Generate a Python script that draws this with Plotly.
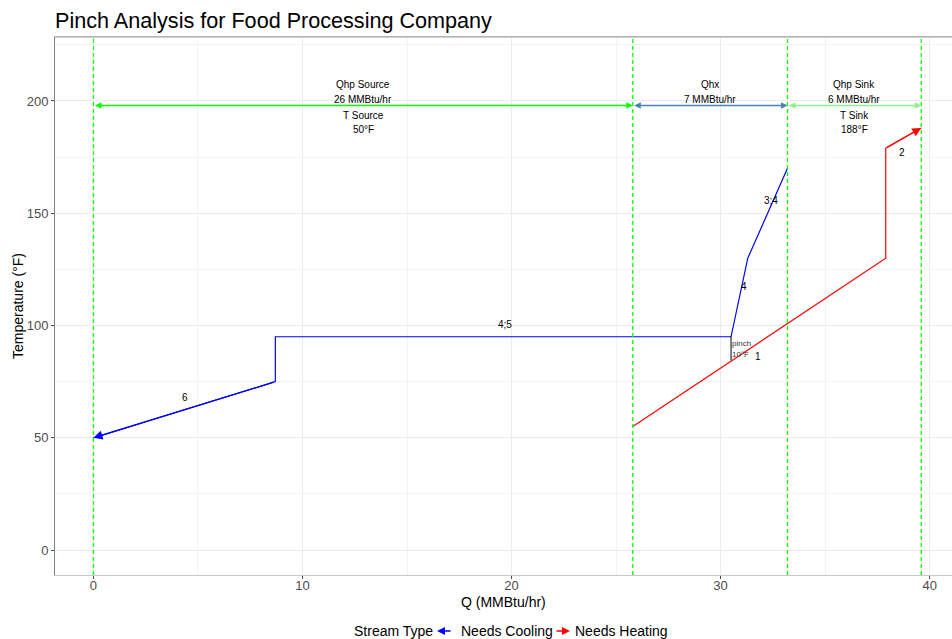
import plotly.graph_objects as go

# Hot composite stream (needs cooling), drawn from high Q down to the arrow at Q=0
hot_q = [33.2, 31.3, 30.5, 8.7, 8.7, 0.0]
hot_t = [170, 130, 95, 95, 75, 50]

# Cold composite stream (needs heating)
cold_q = [25.8, 37.9, 37.9, 39.6]
cold_t = [55, 130, 179, 188]

# Section boundaries (heat pump source / heat exchange / heat pump sink)
bound_q = [0.0, 25.8, 33.2, 39.6]
section_y = 198
section_names = ["Qhp Source", "Qhx", "Qhp Sink"]
section_duty = ["26 MMBtu/hr", "7 MMBtu/hr", "6 MMBtu/hr"]
section_temp_name = ["T Source", "", "T Sink"]
section_temp_val = ["50°F", "", "188°F"]
section_colors = ["#00ff00", "#4682b4", "#90ee90"]

# Segment labels along the streams
seg_labels = ["6", "4;5", "4", "3;4", "1", "2"]
seg_q = [4.4, 19.7, 31.1, 32.4, 31.8, 38.7]
seg_t = [68, 100.5, 117.5, 155.5, 86, 177]

# Pinch marker
pinch_q = 30.5
pinch_hot_t = 95
pinch_cold_t = 84.5
pinch_text = ["pinch", "10°F"]

# Legend entries
legend_title = "Stream Type"
legend_names = ["Needs Cooling", "Needs Heating"]
legend_colors = ["#0000ff", "#ff0000"]

FONT = "Liberation Sans, Arial"
PLOT_L, PLOT_R, PLOT_T, PLOT_B = 55, 952, 37, 575


def px_x(px):
    return (px - PLOT_L) / (PLOT_R - PLOT_L)


def px_y(py):
    return (PLOT_B - py) / (PLOT_B - PLOT_T)


fig = go.Figure()

fig.add_trace(go.Scatter(x=hot_q, y=hot_t, mode="lines", line=dict(color="#0000ff", width=1.2),
                         showlegend=False, hoverinfo="skip"))
fig.add_trace(go.Scatter(x=cold_q, y=cold_t, mode="lines", line=dict(color="#ff0000", width=1.2),
                         showlegend=False, hoverinfo="skip"))

# Pinch gap
fig.add_trace(go.Scatter(x=[pinch_q, pinch_q], y=[pinch_hot_t, pinch_cold_t], mode="lines",
                         line=dict(color="black", width=1), showlegend=False, hoverinfo="skip"))

# Dashed boundary lines
for q in bound_q:
    fig.add_shape(type="line", x0=q, x1=q, y0=0, y1=1, xref="x", yref="paper",
                  line=dict(color="#00ff00", width=1.3, dash="4px,3px"), layer="above")

annotations = []

# Stream end arrowheads
for qs, ts, col in [(hot_q, hot_t, "#0000ff"), (cold_q, cold_t, "#ff0000")]:
    annotations.append(dict(x=qs[-1], y=ts[-1], ax=qs[-2], ay=ts[-2], xref="x", yref="y",
                            axref="x", ayref="y", showarrow=True, arrowhead=2, arrowsize=1.5,
                            arrowwidth=1.2, arrowcolor=col, text=""))

# Section dimension arrows and labels
lab_font = dict(size=10, color="black", family=FONT)
for i in range(3):
    q0, q1 = bound_q[i], bound_q[i + 1]
    annotations.append(dict(x=q1, y=section_y, ax=q0, ay=section_y, xref="x", yref="y",
                            axref="x", ayref="y", showarrow=True, arrowhead=2, startarrowhead=2,
                            arrowside="end+start", arrowsize=1, arrowwidth=1.3,
                            arrowcolor=section_colors[i], text=""))
    mid = (q0 + q1) / 2
    lines = [(section_names[i], 21), (section_duty[i], 6),
             (section_temp_name[i], -10), (section_temp_val[i], -24)]
    for txt, shift in lines:
        if txt:
            annotations.append(dict(x=mid, y=section_y, xref="x", yref="y", showarrow=False,
                                    yanchor="middle", yshift=shift, text=txt, font=lab_font))

for lab, q, t in zip(seg_labels, seg_q, seg_t):
    annotations.append(dict(x=q, y=t, xref="x", yref="y", showarrow=False, text=lab,
                            font=lab_font))

pinch_mid = (pinch_hot_t + pinch_cold_t) / 2
for txt, shift in zip(pinch_text, [5, -6]):
    annotations.append(dict(x=pinch_q, y=pinch_mid, xref="x", yref="y", showarrow=False,
                            xanchor="left", xshift=-1, yshift=shift, text=txt,
                            font=dict(size=8, color="#333333", family=FONT)))

# Axis titles
annotations.append(dict(x=px_x(18), y=0.5, xref="paper", yref="paper", showarrow=False,
                        textangle=-90, xanchor="center", yanchor="middle",
                        text="Temperature (°F)", font=dict(size=14, color="black", family=FONT)))
annotations.append(dict(x=px_x(503.5), y=px_y(602), xref="paper", yref="paper", showarrow=False,
                        xanchor="center", yanchor="middle",
                        text="Q (MMBtu/hr)", font=dict(size=14, color="black", family=FONT)))

# Legend drawn beneath the panel
leg_y = px_y(631)
annotations.append(dict(x=px_x(352), y=leg_y, xref="paper", yref="paper", xanchor="left",
                        yanchor="middle", showarrow=False, text=legend_title,
                        font=dict(size=14, color="black", family=FONT)))
glyph_px = [437, 555]
text_px = [459, 573]
for name, col, gx, tx, direction in zip(legend_names, legend_colors, glyph_px, text_px, [-1, 1]):
    tip = gx + (15 if direction > 0 else 0)
    annotations.append(dict(x=px_x(tip), y=leg_y, xref="paper", yref="paper",
                            ax=-15 * direction, ay=0, showarrow=True, arrowhead=2,
                            arrowsize=1, arrowwidth=1.6, arrowcolor=col, text=""))
    annotations.append(dict(x=px_x(tx), y=leg_y, xref="paper", yref="paper", xanchor="left",
                            yanchor="middle", showarrow=False, text=name,
                            font=dict(size=14, color="black", family=FONT)))

fig.update_layout(
    width=952, height=639,
    margin=dict(l=PLOT_L, r=952 - PLOT_R, t=PLOT_T, b=639 - PLOT_B, autoexpand=False),
    paper_bgcolor="white", plot_bgcolor="white",
    font=dict(family=FONT, color="black"),
    title=dict(text="Pinch Analysis for Food Processing Company", x=55 / 952, xanchor="left",
               y=1 - 20 / 639, yanchor="middle", font=dict(size=21.6, color="black")),
    annotations=annotations,
    showlegend=False,
)

fig.update_xaxes(range=[-1.84, 41.07], dtick=10, tick0=0, showgrid=True, gridcolor="#ebebeb",
                 gridwidth=1, zeroline=False, showline=True, linecolor="#c8c8c8", mirror=True,
                 ticks="outside", ticklen=3, tickcolor="#4d4d4d",
                 tickfont=dict(size=13, color="#4d4d4d"), ticklabelstandoff=-5,
                 minor=dict(dtick=5, tick0=0, showgrid=True, gridcolor="#f3f3f3", gridwidth=1))
fig.update_yaxes(range=[-11.1, 228.5], dtick=50, tick0=0, showgrid=True, gridcolor="#ebebeb",
                 gridwidth=1, zeroline=False, showline=True, linecolor="#808080", mirror=False,
                 ticks="outside", ticklen=3, tickcolor="#4d4d4d",
                 tickfont=dict(size=13, color="#4d4d4d"),
                 minor=dict(dtick=25, tick0=0, showgrid=True, gridcolor="#f3f3f3", gridwidth=1))

# top border line of the panel
fig.add_shape(type="line", x0=0, x1=1, y0=1, y1=1, xref="paper", yref="paper",
              line=dict(color="#a0a0a0", width=1))

fig.write_html("out.html")
